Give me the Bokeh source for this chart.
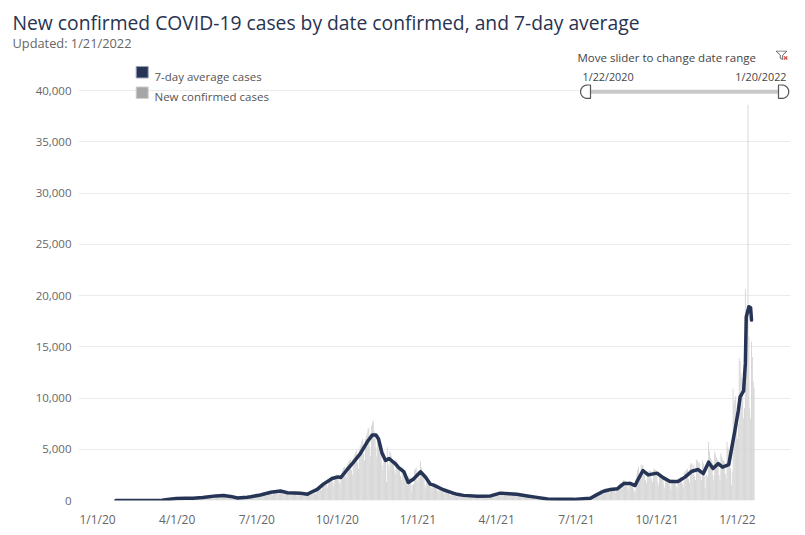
import numpy as np
import pandas as pd
from bokeh.plotting import figure
from bokeh.models import Range1d, FixedTicker, Title
from bokeh.core.properties import value
from bokeh.embed import file_html
from bokeh.resources import INLINE

# ---------------- data ----------------
title_text = "New confirmed COVID-19 cases by date confirmed, and 7-day average"
subtitle_text = "Updated: 1/21/2022"
legend_labels = ["7-day average cases", "New confirmed cases"]
slider_caption = "Move slider to change date range"
slider_start_label = "1/22/2020"
slider_end_label = "1/20/2022"

x_tick_dates = ["2020-01-01", "2020-04-01", "2020-07-01", "2020-10-01", "2021-01-01",
                "2021-04-01", "2021-07-01", "2021-10-01", "2022-01-01"]
x_tick_labels = ["1/1/20", "4/1/20", "7/1/20", "10/1/20", "1/1/21",
                 "4/1/21", "7/1/21", "10/1/21", "1/1/22"]
y_tick_values = [0, 5000, 10000, 15000, 20000, 25000, 30000, 35000, 40000]
y_tick_labels = ["0", "5,000", "10,000", "15,000", "20,000", "25,000", "30,000", "35,000", "40,000"]

# daily new confirmed cases, one list per month
jan20 = [0, 0, 0, 0, 0, 0, 0, 0, 0, 0]
feb20 = [0, 0, 0, 0, 0, 0, 0, 0, 0, 0, 0, 0, 0, 0, 0, 0, 0, 0, 0, 0, 0, 0, 0, 0, 0, 0, 0, 0, 0]
mar20 = [0, 0, 1, 2, 3, 5, 4, 3, 8, 10, 15, 20, 28, 25, 22, 45, 55, 60, 75, 90, 80, 70, 120, 140, 150, 170, 185, 150, 130, 210, 230]
apr20 = [240, 250, 260, 190, 150, 250, 260, 250, 270, 240, 180, 140, 240, 260, 250, 270, 260, 190, 150, 290, 310, 300, 320, 300, 220, 170, 320, 330, 340, 330]
may20 = [330, 250, 190, 360, 380, 390, 380, 370, 280, 220, 430, 460, 480, 500, 490, 370, 290, 540, 560, 550, 530, 520, 380, 280, 420, 500, 480, 460, 450, 330, 260]
jun20 = [420, 410, 390, 380, 360, 260, 200, 270, 260, 250, 260, 270, 200, 160, 320, 330, 340, 350, 340, 260, 200, 400, 420, 430, 440, 450, 330, 260, 480, 500]
jul20 = [560, 580, 550, 380, 330, 600, 620, 680, 720, 740, 520, 420, 720, 760, 850, 880, 900, 640, 520, 900, 920, 960, 990, 1000, 700, 560, 980, 1000, 990, 970, 960]
aug20 = [650, 520, 860, 870, 850, 840, 820, 600, 480, 830, 820, 810, 800, 790, 570, 450, 800, 790, 770, 760, 740, 530, 420, 720, 710, 720, 740, 760, 560, 460, 850]
sep20 = [880, 920, 960, 1000, 760, 620, 900, 1200, 1300, 1400, 1500, 1200, 1000, 1650, 1750, 1800, 1900, 1950, 1500, 1250, 2100, 2200, 2300, 2350, 2400, 1800, 1500, 2400, 2500, 2550]
oct20 = [2500, 2450, 1800, 1500, 2500, 2700, 3000, 3200, 3300, 2600, 2200, 3400, 3600, 3800, 3900, 4000, 3000, 2500, 4100, 4300, 4500, 4700, 4900, 3700, 3100, 5000, 5300, 5500, 5800, 6000, 4600]
nov20 = [3900, 6000, 6300, 6600, 7000, 7100, 5200, 4300, 7300, 7600, 7800, 6800, 6500, 5200, 4300, 6500, 5800, 5000, 4600, 4400, 3500, 3000, 4800, 4600, 4200, 1800, 5200, 3500, 3000, 4800]
dec20 = [4600, 4300, 4000, 3900, 3000, 2600, 4000, 3800, 3600, 3400, 3300, 2400, 2000, 3300, 3200, 3000, 2800, 2600, 1900, 1500, 2400, 2200, 2300, 1600, 800, 1500, 1600, 3000, 3100, 3200, 2000]
jan21 = [1800, 2600, 2200, 3800, 3200, 2600, 2400, 2200, 1500, 1200, 2000, 1900, 1800, 1700, 1600, 1300, 1100, 1500, 1700, 1600, 1500, 1400, 1000, 800, 1300, 1250, 1200, 1150, 1100, 800, 650]
feb21 = [1000, 950, 900, 850, 800, 580, 470, 800, 760, 720, 700, 680, 480, 380, 560, 640, 620, 600, 580, 420, 340, 580, 560, 540, 520, 510, 370, 300]
mar21 = [520, 500, 490, 480, 470, 340, 280, 490, 480, 470, 460, 460, 330, 270, 480, 490, 500, 510, 500, 360, 290, 520, 540, 550, 560, 570, 410, 330, 620, 640, 650]
apr21 = [760, 740, 520, 400, 820, 860, 880, 870, 850, 620, 500, 860, 840, 820, 800, 780, 560, 450, 760, 740, 720, 700, 680, 490, 390, 660, 640, 620, 600, 580]
may21 = [400, 320, 560, 540, 520, 500, 480, 340, 270, 460, 440, 420, 400, 380, 270, 210, 360, 340, 310, 290, 270, 190, 150, 250, 230, 210, 190, 170, 120, 90, 80]
jun21 = [170, 160, 150, 140, 100, 80, 140, 130, 130, 120, 120, 90, 70, 120, 110, 110, 110, 100, 70, 60, 110, 110, 100, 110, 110, 80, 60, 120, 130, 130]
jul21 = [140, 150, 100, 70, 80, 170, 180, 190, 200, 150, 120, 230, 250, 270, 290, 320, 250, 210, 420, 480, 540, 600, 660, 500, 420, 800, 900, 1000, 1050, 1100, 800]
aug21 = [650, 1150, 1200, 1200, 1200, 1150, 850, 700, 1250, 1250, 1250, 1250, 1200, 900, 720, 1300, 1350, 1450, 1600, 1750, 1400, 1150, 1950, 2000, 1950, 1900, 1850, 1350, 1100, 1900, 1900]
sep21 = [1850, 1800, 1700, 1200, 950, 800, 2100, 2600, 3000, 3300, 2600, 2200, 3500, 3500, 3400, 3000, 2800, 2000, 1700, 2800, 2800, 2900, 2900, 2900, 2100, 1800, 3000, 3100, 3000, 2900]
oct21 = [2700, 1800, 1500, 2600, 2500, 2400, 2300, 2200, 1500, 1200, 2100, 2100, 2000, 2000, 2000, 1400, 1100, 2100, 2100, 2000, 2000, 2000, 1400, 1100, 2100, 2200, 2200, 2300, 2300, 1600, 1300]
nov21 = [2700, 2800, 2900, 3000, 3100, 2100, 1700, 3500, 3600, 3600, 2600, 3500, 2400, 2000, 4000, 3900, 3800, 3700, 3600, 2400, 2000, 3900, 3600, 3200, 1200, 2400, 2500, 2300, 5700, 4800]
dec21 = [4200, 4000, 3800, 2500, 2000, 4800, 4500, 4200, 4000, 3800, 2500, 2000, 4600, 4300, 4100, 3900, 3800, 2600, 2100, 5700, 5200, 5000, 4800, 3200, 1500, 2800, 10900, 9500, 9800, 10200, 8500]
jan22 = [6000, 7500, 13900, 13600, 12500, 12000, 11500, 8000, 9000, 20600, 17000, 18000, 38600, 16000, 9000, 8000, 15500, 14000, 11600, 11000]

month_blocks = [
    ("2020-01-22", jan20), ("2020-02-01", feb20), ("2020-03-01", mar20), ("2020-04-01", apr20),
    ("2020-05-01", may20), ("2020-06-01", jun20), ("2020-07-01", jul20), ("2020-08-01", aug20),
    ("2020-09-01", sep20), ("2020-10-01", oct20), ("2020-11-01", nov20), ("2020-12-01", dec20),
    ("2021-01-01", jan21), ("2021-02-01", feb21), ("2021-03-01", mar21), ("2021-04-01", apr21),
    ("2021-05-01", may21), ("2021-06-01", jun21), ("2021-07-01", jul21), ("2021-08-01", aug21),
    ("2021-09-01", sep21), ("2021-10-01", oct21), ("2021-11-01", nov21), ("2021-12-01", dec21),
    ("2022-01-01", jan22),
]

# 7-day average
avg_2020 = [("2020-01-22", 0), ("2020-03-08", 0), ("2020-03-15", 30), ("2020-03-21", 100),
            ("2020-03-31", 190), ("2020-04-10", 230), ("2020-04-19", 220), ("2020-04-30", 290),
            ("2020-05-05", 340), ("2020-05-15", 450), ("2020-05-24", 480), ("2020-06-01", 400),
            ("2020-06-09", 240), ("2020-06-20", 320), ("2020-06-24", 370), ("2020-07-05", 540),
            ("2020-07-17", 800), ("2020-07-28", 920), ("2020-08-05", 760), ("2020-08-20", 700),
            ("2020-08-28", 620), ("2020-09-01", 800), ("2020-09-08", 1090), ("2020-09-15", 1600),
            ("2020-09-25", 2150), ("2020-10-02", 2300), ("2020-10-05", 2240), ("2020-10-12", 3000),
            ("2020-10-19", 3700), ("2020-10-27", 4550), ("2020-11-04", 5700), ("2020-11-10", 6400),
            ("2020-11-14", 6400), ("2020-11-17", 6000), ("2020-11-21", 4600), ("2020-11-25", 3900),
            ("2020-11-29", 4100), ("2020-12-06", 3600), ("2020-12-10", 3200), ("2020-12-16", 2800),
            ("2020-12-21", 1750), ("2020-12-27", 2100)]
avg_2021 = [("2021-01-04", 2800), ("2021-01-10", 2250), ("2021-01-15", 1600), ("2021-01-19", 1500),
            ("2021-01-30", 1050), ("2021-02-11", 700), ("2021-02-15", 600), ("2021-02-22", 500),
            ("2021-03-10", 420), ("2021-03-25", 450), ("2021-04-05", 720), ("2021-04-15", 650),
            ("2021-04-24", 600), ("2021-05-06", 440), ("2021-05-15", 330), ("2021-05-29", 140),
            ("2021-06-15", 110), ("2021-06-28", 110), ("2021-07-13", 200), ("2021-07-17", 220),
            ("2021-07-25", 600), ("2021-08-01", 900), ("2021-08-09", 1070), ("2021-08-17", 1150),
            ("2021-08-24", 1650), ("2021-09-01", 1650), ("2021-09-06", 1460), ("2021-09-10", 2140),
            ("2021-09-15", 2930), ("2021-09-21", 2500), ("2021-10-01", 2670), ("2021-10-08", 2230),
            ("2021-10-16", 1850), ("2021-10-25", 1850), ("2021-11-02", 2280), ("2021-11-10", 2860),
            ("2021-11-17", 3020), ("2021-11-23", 2630), ("2021-11-29", 3740), ("2021-12-04", 3120),
            ("2021-12-10", 3600), ("2021-12-15", 3250), ("2021-12-22", 3500), ("2021-12-26", 5400),
            ("2021-12-29", 6800)]
avg_2022 = [("2022-01-02", 8800), ("2022-01-04", 10100), ("2022-01-08", 10700), ("2022-01-10", 13400),
            ("2022-01-11", 17900), ("2022-01-14", 18900), ("2022-01-16", 18800), ("2022-01-17", 17600)]

# ---------------- assemble ----------------
bar_dates, bar_vals = [], []
for start, vals in month_blocks:
    bar_dates.extend(pd.date_range(start, periods=len(vals), freq="D"))
    bar_vals.extend(vals)

avg_pairs = avg_2020 + avg_2021 + avg_2022
avg_dates = [pd.Timestamp(d) for d, _ in avg_pairs]
avg_vals = [v for _, v in avg_pairs]

# ---------------- layout constants (canvas px) ----------------
FONT = "Open Sans"
NAVY = "#263455"
CANVAS_W, CANVAS_H = 805, 535
FR_L, FR_R, FR_T, FR_B = 78, 790, 50, 500
FW, FH = FR_R - FR_L, FR_B - FR_T
PX_DAY = 0.8755      # px per day
X_ANCHOR = 97        # canvas x of 1/1/20
Y40K = 90            # canvas y of 40,000

origin = pd.Timestamp("2020-01-01")
x_start = origin + pd.Timedelta(days=(FR_L - X_ANCHOR) / PX_DAY)
x_end = origin + pd.Timedelta(days=(FR_R - X_ANCHOR) / PX_DAY)
y_end = 40000 * FH / (FR_B - Y40K)

p = figure(title=None, x_axis_type="datetime", frame_width=FW, frame_height=FH,
           x_range=Range1d(x_start, x_end), y_range=Range1d(0, y_end),
           output_backend="svg", toolbar_location=None,
           min_border_left=FR_L, min_border_right=CANVAS_W - FR_R,
           min_border_top=FR_T, min_border_bottom=CANVAS_H - FR_B)
p.extra_x_ranges = {"px": Range1d(FR_L, FR_R)}
p.extra_y_ranges = {"py": Range1d(FR_B, FR_T)}
p.outline_line_color = None
p.background_fill_color = "white"
p.border_fill_color = "white"

# titles (subtitle added first so that it sits next to the frame)
p.add_layout(Title(text=subtitle_text, align="left", offset=12 - FR_L, standoff=-3,
                   text_font=FONT, text_font_size="12.8px", text_font_style="normal",
                   text_color="#666666"), "above")
p.add_layout(Title(text=title_text, align="left", offset=12 - FR_L, standoff=-5,
                   text_font=FONT, text_font_size="19.3px", text_font_style="normal",
                   text_color="#283350"), "above")

x_tick_ms = [int(pd.Timestamp(d).value // 10**6) for d in x_tick_dates]
p.xaxis.ticker = FixedTicker(ticks=x_tick_ms, minor_ticks=[])
p.xaxis.major_label_overrides = {t: lab for t, lab in zip(x_tick_ms, x_tick_labels)}
p.yaxis.ticker = FixedTicker(ticks=y_tick_values, minor_ticks=[])
p.yaxis.major_label_overrides = {v: lab for v, lab in zip(y_tick_values, y_tick_labels)}
for ax in [p.xaxis[0], p.yaxis[0]]:
    ax.axis_line_color = None
    ax.major_tick_line_color = None
    ax.minor_tick_line_color = None
    ax.major_tick_out = 0
    ax.major_tick_in = 0
    ax.major_label_text_font = FONT
    ax.major_label_text_color = "#666666"
p.xaxis.major_label_text_font_size = "12px"
p.yaxis.major_label_text_font_size = "11.5px"
p.xaxis.major_label_standoff = 10
p.yaxis.major_label_standoff = 7
p.xgrid.visible = False
p.ygrid.grid_line_color = "#ebebeb"
p.ygrid.grid_line_width = 1

# bars and line
p.vbar(x=bar_dates, top=bar_vals, width=86400000, bottom=0,
       fill_color="#d3d3d3", line_color=None)
p.line(x=avg_dates, y=avg_vals, line_width=3.5, line_color=NAVY,
       line_join="round", line_cap="round")

# legend (manual)
p.rect(x=[141.7, 141.7], y=[71.7, 92.2], width=12, height=11.5,
       width_units="screen", height_units="screen",
       fill_color=[NAVY, "#a6a6a6"], line_color=["#9aa3b5", "#d0d0d0"], line_width=1,
       x_range_name="px", y_range_name="py")
p.text(x=[154, 154], y=[75.5, 95.5], text=legend_labels, text_font=value(FONT),
       text_font_size=value("11.5px"), text_color="#555555", text_baseline="alphabetic",
       x_range_name="px", y_range_name="py")

# slider (decoration)
p.text(x=[577], y=[57], text=[slider_caption], text_font=value(FONT),
       text_font_size=value("11.5px"), text_color="#444444", text_baseline="alphabetic",
       x_range_name="px", y_range_name="py")
p.patch(x=[775.5, 786.5, 782.2, 782.2, 779.8, 779.8], y=[50.5, 50.5, 54.6, 59.0, 57.8, 54.6],
        fill_color=None, line_color="#666666", line_width=1,
        x_range_name="px", y_range_name="py")
p.segment(x0=[783.6, 786.8], y0=[55.8, 55.8], x1=[786.8, 783.6], y1=[59.0, 59.0],
          line_color="#d9463e", line_width=1.2, x_range_name="px", y_range_name="py")
p.text(x=[582], y=[76], text=[slider_start_label], text_font=value(FONT),
       text_font_size=value("10.8px"), text_color="#444444", text_baseline="alphabetic",
       text_align="left", x_range_name="px", y_range_name="py")
p.text(x=[786], y=[76], text=[slider_end_label], text_font=value(FONT),
       text_font_size=value("10.8px"), text_color="#444444", text_baseline="alphabetic",
       text_align="right", x_range_name="px", y_range_name="py")
p.segment(x0=[590], y0=[91.3], x1=[778], y1=[91.3], line_color="#c8c8c8", line_width=4,
          x_range_name="px", y_range_name="py")
r = 6.7
ang_l = np.linspace(np.pi / 2, 3 * np.pi / 2, 25)
ang_r = np.linspace(-np.pi / 2, np.pi / 2, 25)
cxl, cxr, cy = 586.8, 781.5, 91.2
lx = [590] + list(cxl + r * np.cos(ang_l)) + [590]
ly = [cy - r] + list(cy - r * np.sin(ang_l)) + [cy + r]
rx = [778] + list(cxr + r * np.cos(ang_r)) + [778]
ry = [cy + r] + list(cy - r * np.sin(ang_r)) + [cy - r]
p.patches(xs=[lx, rx], ys=[ly, ry], fill_color="white", line_color="#555555", line_width=1.2,
          x_range_name="px", y_range_name="py")

open("out.html", "w").write(file_html(p, INLINE))
